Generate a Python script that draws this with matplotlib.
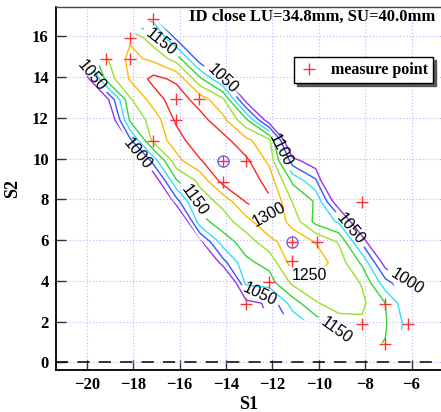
import numpy as np
import matplotlib
matplotlib.use("Agg")
import matplotlib.pyplot as plt
from matplotlib.patches import Polygon

nan = np.nan

# ---------------- data ----------------
s1_grid = [-20.13, -19.13, -18.13, -17.13, -16.13, -15.13, -14.13, -13.13,
           -12.13, -11.13, -10.13, -9.13, -8.13, -7.13, -6.13]
s2_grid = [0.9, 1.9, 2.9, 3.9, 4.9, 5.9, 6.9, 7.9, 8.9, 9.9, 10.9, 11.9,
           12.9, 13.9, 14.9, 15.9, 16.9]

# field value on the grid (rows follow s2_grid, columns follow s1_grid)
field = [
    [nan, nan, nan, nan, nan, nan, nan, nan, nan, nan, 1050, 1120, 1160, 1148, 1070],
    [nan, nan, nan, nan, nan, nan, nan, 950, 1000, 1060, 1120, 1175, 1192, 1155, 1080],
    [nan, nan, nan, nan, nan, nan, 800, 980, 1010, 1125, 1195, 1225, 1210, 1150, 1056],
    [nan, nan, nan, nan, nan, 700, 850, 1115, 1128, 1210, 1240, 1235, 1196, 1070, 1000],
    [nan, nan, nan, nan, nan, 850, 1031, 1140, 1166, 1275, 1280, 1225, 1140, 973, 700],
    [nan, nan, nan, nan, 800, 985, 1124, 1173, 1232, 1282, 1248, 1196, 1040, 840, nan],
    [nan, nan, nan, 700, 880, 1130, 1177, 1230, 1295, 1232, 1135, 1093, 906, 700, nan],
    [nan, nan, nan, 850, 1031, 1175, 1215, 1305, 1310, 1197, 1144, 947, 800, 600, nan],
    [nan, nan, 800, 950, 1145, 1211, 1320, 1335, 1279, 1141, 1060, 800, 550, nan, nan],
    [nan, 700, 900, 1072, 1235, 1295, 1345, 1310, 1238, 1020, 960, 700, nan, nan, nan],
    [nan, 800, 1040, 1215, 1275, 1341, 1318, 1262, 1212, 876, 600, nan, nan, nan, nan],
    [680, 915, 1160, 1220, 1311, 1320, 1264, 1160, 955, 600, nan, nan, nan, nan, nan],
    [724, 985, 1194, 1274, 1329, 1277, 1210, 975, 650, nan, nan, nan, nan, nan, nan],
    [947, 1171, 1255, 1315, 1290, 1165, 1045, 800, nan, nan, nan, nan, nan, nan, nan],
    [1094, 1197, 1264, 1238, 1178, 1020, 700, nan, nan, nan, nan, nan, nan, nan, nan],
    [nan, 1203, 1243, 1172, 1040, 684, nan, nan, nan, nan, nan, nan, nan, nan, nan],
    [nan, nan, 1121, 1080, 713, nan, nan, nan, nan, nan, nan, nan, nan, nan, nan],
]

levels = [1000, 1050, 1100, 1150, 1200, 1250, 1300]

# measured region outline
domain_s1 = [-17.13, -20.13, -13.13, -7.13, -6.13, -8.13]
domain_s2 = [16.9, 13.9, 2.9, 0.9, 1.9, 7.9]

# measure points
meas_s1 = [-17.13, -18.12, -19.17, -18.12, -16.15, -15.15, -16.15, -17.13,
           -14.11, -13.15, -14.11, -8.12, -11.14, -10.09, -11.14, -12.14,
           -13.12, -8.12, -7.14, -7.14, -6.14]
meas_s2 = [16.85, 15.90, 14.87, 14.87, 12.90, 12.90, 11.90, 10.87,
           9.90, 9.90, 8.87, 7.89, 5.90, 5.90, 4.95, 3.94,
           2.88, 1.90, 2.88, 0.92, 1.90]

# highlighted points
circ_s1 = [-14.11, -11.14]
circ_s2 = [9.90, 5.90]

# contour labels: level and where it sits
label_level = [1050, 1000, 1150, 1050, 1150, 1150, 1050, 1100, 1050, 1000, 1300, 1250]
label_s1 = [-19.64, -17.78, -15.20, -12.52, -9.25, -16.75, -14.12, -11.40, -8.56, -6.32, -12.17, -10.50]
label_s2 = [14.20, 10.27, 8.10, 3.50, 1.54, 15.77, 13.96, 10.50, 6.60, 3.69, 7.17, 3.98]

title_text = "ID close LU=34.8mm, SU=40.0mm"
legend_text = "measure point"

# ---------------- style ----------------
level_colors = ["#9933ee", "#3358ff", "#33ddff", "#33d633", "#99e22a", "#ffbb00", "#ff2222"]
serif_bold = dict(family="Liberation Serif", weight="bold")

fig = plt.figure(figsize=(4.41, 4.12), dpi=100)
ax = fig.add_axes([0.1263, 0.1019, 0.8737, 0.8803])

ax.set_xlim(-21.34, -4.73)
ax.set_ylim(-0.38, 17.42)

ax.grid(True, color="#b4b4ff", linestyle=(0, (1, 2)), linewidth=0.8)
ax.set_axisbelow(True)

X, Y = np.meshgrid(np.array(s1_grid), np.array(s2_grid))
Z = np.ma.masked_invalid(np.array(field, dtype=float))

clip = Polygon(np.column_stack([domain_s1, domain_s2]), closed=True,
               transform=ax.transData, facecolor="none", edgecolor="none")

for lev, col in zip(levels, level_colors):
    cs = ax.contour(X, Y, Z, levels=[lev], colors=[col], linewidths=1.0, zorder=2)
    spots = [(lx, ly) for ll, lx, ly in zip(label_level, label_s1, label_s2) if ll == lev]
    if spots:
        texts = ax.clabel(cs, manual=spots, inline=True, inline_spacing=2,
                          fmt="%d", fontsize=11.5, colors="black")
        for t in texts:
            t.set_fontfamily("Liberation Sans")
    cs.set_clip_path(clip)

ax.axhline(0, color="black", linewidth=1.1, linestyle=(0, (8, 6)), zorder=3)

ax.plot(meas_s1, meas_s2, linestyle="none", marker="+", markersize=8,
        markeredgewidth=1.0, color="#ff3333", zorder=4, label=legend_text)
ax.plot(circ_s1, circ_s2, linestyle="none", marker="o", markersize=8,
        markerfacecolor="none", markeredgecolor="#6666ee", markeredgewidth=1.0, zorder=4)

ax.set_xticks([-20, -18, -16, -14, -12, -10, -8, -6])
ax.set_yticks([0, 2, 4, 6, 8, 10, 12, 14, 16])
ax.tick_params(direction="in", length=7, width=1, color="#333333", pad=5)
for lab in ax.get_xticklabels() + ax.get_yticklabels():
    lab.set_fontfamily("Liberation Serif")
    lab.set_fontweight("bold")
    lab.set_fontsize(12)

ax.set_xlabel("S1", fontsize=13, labelpad=2, **serif_bold)
ax.set_ylabel("S2", fontsize=13, labelpad=8, **serif_bold)

for side in ["left", "bottom"]:
    ax.spines[side].set_linewidth(1.3)
    ax.spines[side].set_color("black")
ax.spines["top"].set_linewidth(1.0)
ax.spines["top"].set_color("#444444")
ax.spines["right"].set_visible(False)

ax.text(0.984, 0.973, title_text, transform=ax.transAxes, ha="right", va="center",
        fontsize=12, zorder=5, **serif_bold)

leg = ax.legend(loc="upper right", bbox_to_anchor=(0.979, 0.862), frameon=True,
                borderaxespad=0.0, fancybox=False, shadow={"color": "0.35", "alpha": 1.0},
                handlelength=1.2, handletextpad=0.8, borderpad=0.3,
                prop={"family": "Liberation Serif", "weight": "bold", "size": 11.5})
leg.get_frame().set_edgecolor("black")
leg.get_frame().set_linewidth(1.0)

fig.savefig("out.png", dpi=100)
